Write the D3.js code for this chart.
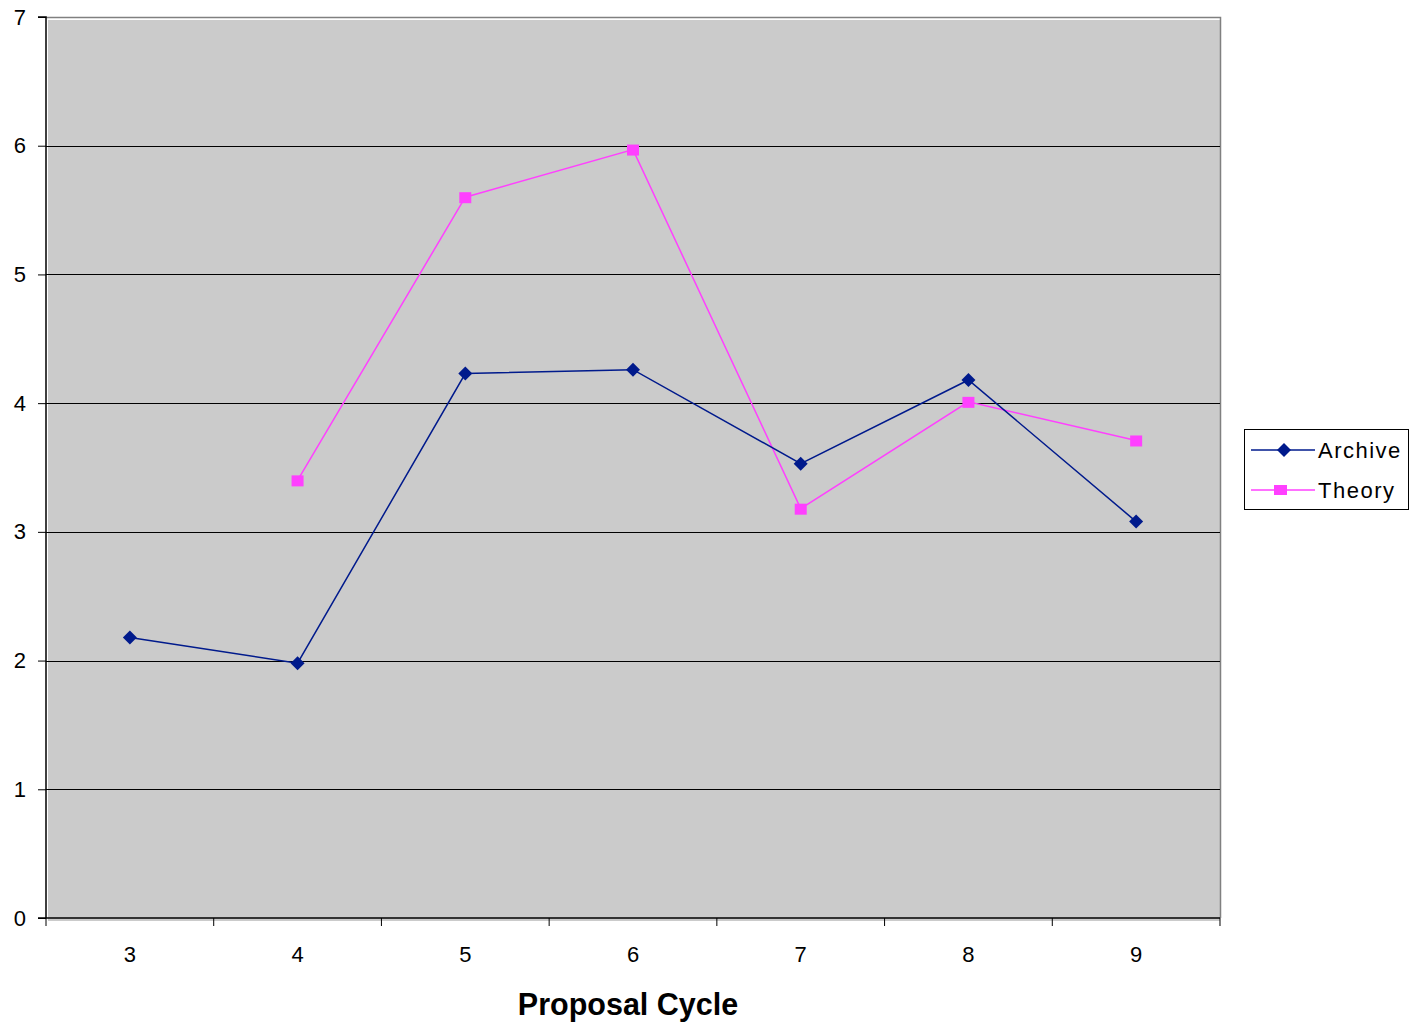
<!DOCTYPE html>
<html>
<head>
<meta charset="utf-8">
<script src="https://cdn.jsdelivr.net/npm/d3@7"></script>
<style>
  body { margin: 0; background: #fff; }
  svg text { font-family: "Liberation Sans", Arial, sans-serif; fill: #000; }
</style>
</head>
<body>
<div id="chart"></div>
<script>
// data
const cycles = ['3', '4', '5', '6', '7', '8', '9'];
const archive = [2.18, 1.98, 4.23, 4.26, 3.53, 4.18, 3.08];
const theory = [null, 3.40, 5.60, 5.97, 3.18, 4.01, 3.71];
const yTicks = [0, 1, 2, 3, 4, 5, 6, 7];

const width = 1411, height = 1023;
const plotL = 46, plotR = 1220, plotT = 17, plotB = 918;

const svg = d3.select('#chart')
  .append('svg')
  .attr('width', width)
  .attr('height', height);

const x = d3.scaleBand().domain(cycles).range([plotL, plotR]);
const y = d3.scaleLinear().domain([0, 7]).range([plotB, plotT]);

// plot background
svg.append('rect')
  .attr('x', plotL + 2)
  .attr('y', plotT + 3)
  .attr('width', plotR - plotL - 2)
  .attr('height', plotB - plotT)
  .attr('fill', '#cbcbcb');

// border top / right
svg.append('path')
  .attr('d', `M${plotL},${plotT + 0.5}H${plotR + 0.5}V${plotB}`)
  .attr('fill', 'none')
  .attr('stroke', '#808080')
  .attr('stroke-width', 1.5);

// gridlines
svg.append('g')
  .selectAll('line')
  .data(yTicks.filter(d => d > 0 && d < 7))
  .join('line')
  .attr('x1', plotL)
  .attr('x2', plotR)
  .attr('y1', d => Math.round(y(d)) + 0.5)
  .attr('y2', d => Math.round(y(d)) + 0.5)
  .attr('stroke', '#000')
  .attr('stroke-width', 1);

// axes
const yAxis = svg.append('g')
  .attr('transform', `translate(${plotL},0)`)
  .call(d3.axisLeft(y).tickValues(yTicks).tickSize(8).tickPadding(12).tickFormat(d3.format('d')));
const xAxis = svg.append('g')
  .attr('transform', `translate(0,${plotB})`)
  .call(d3.axisBottom(x).tickSize(0).tickPadding(28));
xAxis.selectAll('.tick')
  .append('line')
  .attr('x1', x.bandwidth() / 2)
  .attr('x2', x.bandwidth() / 2)
  .attr('y2', 8)
  .attr('stroke', '#000');
xAxis.append('line')
  .attr('x1', plotL)
  .attr('x2', plotL)
  .attr('y2', 8)
  .attr('stroke', '#000');
[yAxis, xAxis].forEach(a => {
  a.attr('font-size', 22).attr('font-family', null);
  a.select('.domain').attr('stroke', '#000').attr('stroke-width', 1.5);
  a.selectAll('.tick line').attr('stroke', '#000');
  a.selectAll('text').attr('font-size', 22).attr('fill', '#000');
});
yAxis.select('.domain').attr('d', `M-8,${plotT}H0V${plotB}`);
xAxis.select('.domain').attr('d', `M${plotL - 8},0H${plotR}`);

svg.append('text')
  .attr('x', 628)
  .attr('y', 1015)
  .attr('text-anchor', 'middle')
  .attr('font-size', 30.5)
  .attr('font-weight', 'bold')
  .text('Proposal Cycle');

const cx = (d, i) => x(cycles[i]) + x.bandwidth() / 2;
const navy = '#001a8c', pink = '#ff40ff';

const line = d3.line()
  .defined(d => d != null)
  .x((d, i) => cx(d, i))
  .y(d => y(d));

svg.append('path')
  .datum(theory)
  .attr('d', line)
  .attr('fill', 'none')
  .attr('stroke', pink)
  .attr('stroke-width', 1.5);
svg.append('path')
  .datum(archive)
  .attr('d', line)
  .attr('fill', 'none')
  .attr('stroke', navy)
  .attr('stroke-width', 1.5);

const diamond = 'M0,-7L7,0L0,7L-7,0Z';

svg.append('g')
  .selectAll('rect')
  .data(theory.map((v, i) => ({ v, i })).filter(d => d.v != null))
  .join('rect')
  .attr('x', d => cx(d.v, d.i) - 6)
  .attr('y', d => y(d.v) - 5)
  .attr('width', 12)
  .attr('height', 11)
  .attr('fill', pink);

svg.append('g')
  .selectAll('path')
  .data(archive)
  .join('path')
  .attr('transform', (d, i) => `translate(${cx(d, i)},${y(d)})`)
  .attr('d', diamond)
  .attr('fill', navy);

// legend
const lg = svg.append('g').attr('transform', 'translate(1244,429)');
lg.append('rect')
  .attr('x', 0.5).attr('y', 0.5)
  .attr('width', 164).attr('height', 80)
  .attr('fill', '#fff')
  .attr('stroke', '#000');
const items = [
  { name: 'Archive', color: navy, y: 21 },
  { name: 'Theory', color: pink, y: 61 }
];
items.forEach(it => {
  lg.append('line')
    .attr('x1', 7).attr('x2', 71)
    .attr('y1', it.y).attr('y2', it.y)
    .attr('stroke', it.color).attr('stroke-width', 1.5);
  if (it.name === 'Archive') {
    lg.append('path')
      .attr('transform', `translate(40,${it.y})`)
      .attr('d', diamond)
      .attr('fill', navy);
  } else {
    lg.append('rect')
      .attr('x', 30).attr('y', it.y - 5)
      .attr('width', 13).attr('height', 10)
      .attr('fill', pink);
  }
  lg.append('text')
    .attr('x', 74)
    .attr('y', it.y + 8)
    .attr('font-size', 22)
    .attr('letter-spacing', 1.5)
    .text(it.name);
});
</script>
</body>
</html>
